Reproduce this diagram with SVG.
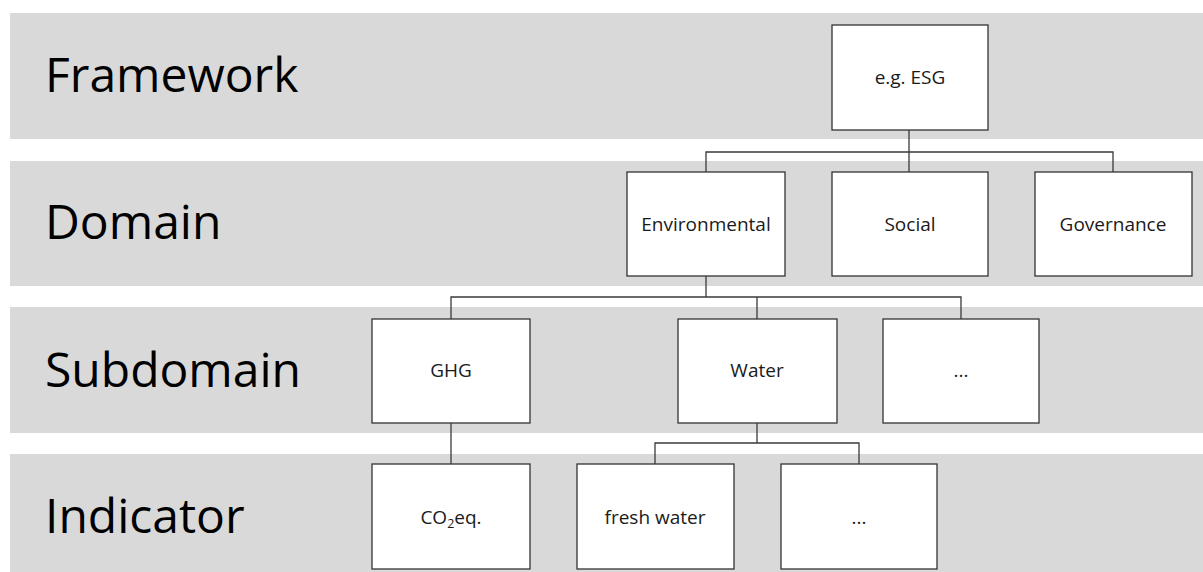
<svg xmlns="http://www.w3.org/2000/svg" width="1203" height="572" viewBox="0 0 1203 572">
<style>
.band{fill:#d9d9d9}
.lvl{font-family:"Open Sans","Noto Sans",sans-serif;font-size:48px;fill:#000}
.box rect{fill:#fff;stroke:#333;stroke-width:1.3}
.box text{font-family:"Open Sans","Noto Sans",sans-serif;font-size:19px;fill:#1a1a1a;text-anchor:middle}
.conn{fill:none;stroke:#3a3a3a;stroke-width:1.3}
</style>
<rect width="1203" height="572" fill="#fff"/>
<g id="bands">
<rect class="band" x="10" y="13" width="1193" height="126"/>
<rect class="band" x="10" y="161" width="1193" height="125"/>
<rect class="band" x="10" y="307" width="1193" height="126"/>
<rect class="band" x="10" y="454" width="1193" height="126"/>
<text class="lvl" x="45" y="92">Framework</text>
<text class="lvl" x="45" y="239">Domain</text>
<text class="lvl" x="45" y="387">Subdomain</text>
<text class="lvl" x="45" y="533">Indicator</text>
</g>
<g id="connectors">
<path class="conn" d="M909 130V172M706 172V152H1113V172"/>
<path class="conn" d="M706 276V297M451 319V297H961V319M757 297V319"/>
<path class="conn" d="M451 423V464"/>
<path class="conn" d="M757 423V443M655 464V443H859V464"/>
</g>
<g id="esg" class="box"><rect x="832" y="25" width="156" height="105"/><text x="910" y="84">e.g. ESG</text></g>
<g id="environmental" class="box"><rect x="627" y="172" width="158" height="104"/><text x="706" y="231">Environmental</text></g>
<g id="social" class="box"><rect x="832" y="172" width="156" height="104"/><text x="910" y="231">Social</text></g>
<g id="governance" class="box"><rect x="1035" y="172" width="157" height="104"/><text x="1113" y="231">Governance</text></g>
<g id="ghg" class="box"><rect x="372" y="319" width="158" height="104"/><text x="451" y="377">GHG</text></g>
<g id="water" class="box"><rect x="678" y="319" width="159" height="104"/><text x="757" y="377">Water</text></g>
<g id="sub-more" class="box"><rect x="883" y="319" width="156" height="104"/><text x="961" y="377">...</text></g>
<g id="co2eq" class="box"><rect x="372" y="464" width="158" height="105"/><text x="451" y="524">CO<tspan font-size="12.5" dy="4">2</tspan><tspan dy="-4">eq.</tspan></text></g>
<g id="fresh-water" class="box"><rect x="577" y="464" width="157" height="105"/><text x="655" y="524">fresh water</text></g>
<g id="ind-more" class="box"><rect x="781" y="464" width="156" height="105"/><text x="859" y="524">...</text></g>
</svg>
